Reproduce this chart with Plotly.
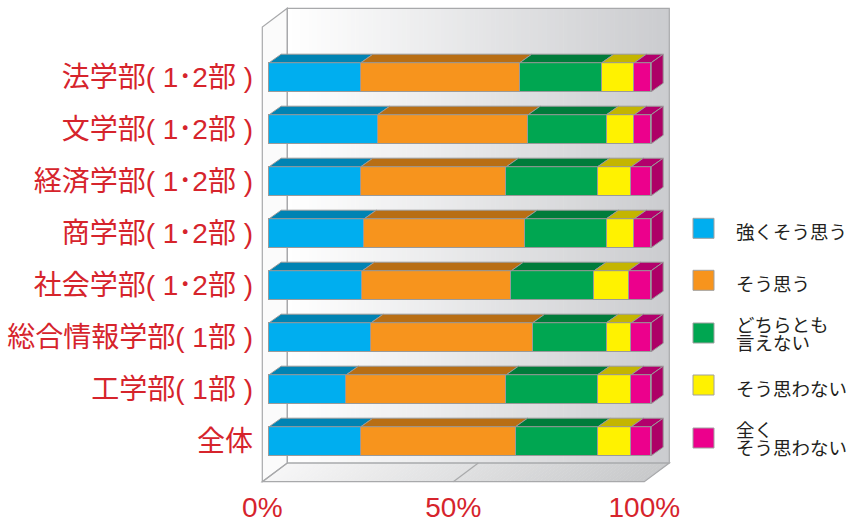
import plotly.graph_objects as go

# ---- data -------------------------------------------------------------
categories = [
    "法学部( 1･2部 )",
    "文学部( 1･2部 )",
    "経済学部( 1･2部 )",
    "商学部( 1･2部 )",
    "社会学部( 1･2部 )",
    "総合情報学部( 1部 )",
    "工学部( 1部 )",
    "全体",
]
series_names = ["強くそう思う", "そう思う", "どちらとも\n言えない", "そう思わない", "全く\nそう思わない"]

strongly_agree = [24.0, 28.4, 24.0, 24.9, 24.4, 26.7, 20.2, 24.0]
agree = [41.6, 39.4, 38.1, 42.1, 39.0, 42.3, 41.9, 40.5]
neutral = [21.5, 20.5, 23.9, 21.3, 21.7, 19.3, 23.9, 21.6]
disagree = [8.5, 7.3, 8.8, 7.3, 9.0, 6.5, 8.8, 8.7]
strongly_disagree = [4.4, 4.4, 5.2, 4.4, 5.9, 5.2, 5.2, 5.2]

x_tick_vals = [0, 50, 100]
x_tick_text = ["0%", "50%", "100%"]

series_values = [strongly_agree, agree, neutral, disagree, strongly_disagree]

# ---- styling ----------------------------------------------------------
front_colors = ["#00aeef", "#f7941d", "#00a651", "#fff200", "#ec008c"]
top_colors = ["#0083b3", "#b86e14", "#007c3b", "#c4b500", "#b3006c"]
side_color = "#ad0066"
edge_color = "#9a9a9a"
label_red = "#d6242c"
frame_line = "#a8a9ab"
label_font = "Liberation Sans, Noto Sans CJK JP"

W, H = 848, 519
PL, PR, PT, PB = 258, 676, 4, 488          # plot area in pixels
S = 3.82                                    # pixels per percent
TICK_X0 = 262.3                             # pixel of 0% on floor front edge
BAR_X0 = 269.2                              # pixel of 0% on bar front faces
ROW0, PITCH = 77.2, 52.0                    # first row centre, row pitch
BAR_W = 0.558
DX, DY = 12.0 / S, 8.5 / PITCH              # bar depth in axis units

# 3D frame (pixels)
FLOOR_FRONT_Y, FLOOR_BACK_Y, WALL_TOP_Y = 481.7, 463.0, 8.3
WALL_DX = 25.0
WALL_DY = FLOOR_FRONT_Y - FLOOR_BACK_Y


def paper(x, y):
    return (x - PL) / (PR - PL), (PB - y) / (PB - PT)


def tick_px(v):
    return TICK_X0 + S * v


def path_paper(points):
    pts = [paper(x, y) for x, y in points]
    return "M" + " L".join(f"{a:.5f},{b:.5f}" for a, b in pts) + " Z"


def mix(c0, c1, t):
    return "rgb(%d,%d,%d)" % tuple(round(a + (b - a) * t) for a, b in zip(c0, c1))


shapes = []

# back wall with horizontal gradient
bw_x0, bw_x1 = tick_px(0) + WALL_DX, tick_px(100) + WALL_DX
N = 90
for k in range(N):
    xa = bw_x0 + (bw_x1 - bw_x0) * k / N
    xb = min(bw_x0 + (bw_x1 - bw_x0) * (k + 1) / N + 0.6, bw_x1)
    shapes.append(dict(type="path", xref="paper", yref="paper", layer="below",
                       path=path_paper([(xa, WALL_TOP_Y), (xb, WALL_TOP_Y),
                                        (xb, FLOOR_BACK_Y), (xa, FLOOR_BACK_Y)]),
                       fillcolor=mix((255, 255, 255), (203, 204, 207), k / (N - 1)),
                       line=dict(width=0)))

# floor with gradient
fl0, fl1 = tick_px(0), tick_px(100)
for k in range(N):
    xa = fl0 + (fl1 - fl0) * k / N
    xb = min(fl0 + (fl1 - fl0) * (k + 1) / N + 0.6, fl1)
    shapes.append(dict(type="path", xref="paper", yref="paper", layer="below",
                       path=path_paper([(xa, FLOOR_FRONT_Y), (xb, FLOOR_FRONT_Y),
                                        (xb + WALL_DX, FLOOR_BACK_Y), (xa + WALL_DX, FLOOR_BACK_Y)]),
                       fillcolor=mix((246, 246, 246), (200, 201, 203), k / (N - 1)),
                       line=dict(width=0)))

# left wall
shapes.append(dict(type="path", xref="paper", yref="paper", layer="below",
                   path=path_paper([(fl0, FLOOR_FRONT_Y), (fl0 + WALL_DX, FLOOR_BACK_Y),
                                    (fl0 + WALL_DX, WALL_TOP_Y), (fl0, WALL_TOP_Y + WALL_DY)]),
                   fillcolor="#fbfbfb", line=dict(color=frame_line, width=1.2)))
# back wall outline
shapes.append(dict(type="path", xref="paper", yref="paper", layer="below",
                   path=path_paper([(bw_x0, WALL_TOP_Y), (bw_x1, WALL_TOP_Y),
                                    (bw_x1, FLOOR_BACK_Y), (bw_x0, FLOOR_BACK_Y)]),
                   fillcolor="rgba(0,0,0,0)", line=dict(color=frame_line, width=1.2)))
# floor outline
shapes.append(dict(type="path", xref="paper", yref="paper", layer="below",
                   path=path_paper([(fl0, FLOOR_FRONT_Y), (fl1, FLOOR_FRONT_Y),
                                    (fl1 + WALL_DX, FLOOR_BACK_Y), (fl0 + WALL_DX, FLOOR_BACK_Y)]),
                   fillcolor="rgba(0,0,0,0)", line=dict(color=frame_line, width=1.2)))
# floor grid line at the middle tick
for v in x_tick_vals[1:-1]:
    x0, y0 = paper(tick_px(v), FLOOR_FRONT_Y)
    x1, y1 = paper(tick_px(v) + WALL_DX, FLOOR_BACK_Y)
    shapes.append(dict(type="line", xref="paper", yref="paper", layer="below",
                       x0=x0, y0=y0, x1=x1, y1=y1, line=dict(color=frame_line, width=1.2)))

# ---- bars -------------------------------------------------------------
positions = list(range(len(categories)))
fig = go.Figure()
for name, vals, col in zip(series_names, series_values, front_colors):
    fig.add_trace(go.Bar(
        y=positions, x=vals, orientation="h", name=name.replace("\n", ""),
        xaxis="x2", yaxis="y", width=BAR_W,
        marker=dict(color=col, line=dict(color=edge_color, width=1)),
        showlegend=False, hoverinfo="skip",
    ))

# empty trace so the percentage axis (floor front edge) is laid out
fig.add_trace(go.Scatter(x=[None], y=[None], xaxis="x", yaxis="y",
                         mode="markers", showlegend=False, hoverinfo="skip"))

# top and end faces of each stacked bar
for i in positions:
    y_top = i - BAR_W / 2
    y_bot = i + BAR_W / 2
    left = 0.0
    for s_idx, vals in enumerate(series_values):
        right = left + vals[i]
        shapes.append(dict(
            type="path", xref="x2", yref="y", layer="above",
            path=f"M{left},{y_top} L{right},{y_top} L{right + DX},{y_top - DY} L{left + DX},{y_top - DY} Z",
            fillcolor=top_colors[s_idx], line=dict(color=edge_color, width=1)))
        left = right
    shapes.append(dict(
        type="path", xref="x2", yref="y", layer="above",
        path=f"M{left},{y_top} L{left + DX},{y_top - DY} L{left + DX},{y_bot - DY} L{left},{y_bot} Z",
        fillcolor=side_color, line=dict(color=edge_color, width=1)))

# ---- legend -----------------------------------------------------------
annotations = []
legend_centres = [228.3, 280.3, 333.0, 385.0, 438.0]
for name, col, c in zip(series_names, front_colors, legend_centres):
    x0, y0 = paper(693, c - 10)
    x1, y1 = paper(714, c + 10)
    shapes.append(dict(type="rect", xref="paper", yref="paper", x0=x0, y0=y0, x1=x1, y1=y1,
                       fillcolor=col, line=dict(color="#a0a0a0", width=1)))
    lines = name.split("\n")
    if len(lines) == 1:
        ys = [c + 3]
    else:
        ys = [c - 9.0, c + 8.5]
    for txt, yy in zip(lines, ys):
        ax, ay = paper(734, yy)
        annotations.append(dict(xref="paper", yref="paper", x=ax, y=ay, text=txt,
                                showarrow=False, xanchor="left", yanchor="middle",
                                font=dict(family="Noto Sans CJK JP", size=18.5, color="#231f20")))

fig.update_layout(
    width=W, height=H,
    margin=dict(l=PL, r=W - PR, t=PT, b=H - PB, pad=0, autoexpand=False),
    paper_bgcolor="white", plot_bgcolor="rgba(0,0,0,0)",
    barmode="stack", bargap=0,
    shapes=shapes, annotations=annotations,
    xaxis=dict(range=[(PL - TICK_X0) / S, (PR - TICK_X0) / S], automargin=False,
               tickvals=x_tick_vals, ticktext=x_tick_text,
               showgrid=False, zeroline=False, showline=False, ticks="",
               ticklabelstandoff=0,
               tickfont=dict(family="Liberation Sans", size=28, color=label_red)),
    xaxis2=dict(range=[(PL - BAR_X0) / S, (PR - BAR_X0) / S], overlaying="x",
                anchor="y", visible=False, showgrid=False, zeroline=False, automargin=False),
    yaxis=dict(range=[(PB - ROW0) / PITCH, (PT - ROW0) / PITCH], automargin=False,
               tickvals=positions, ticktext=categories,
               showgrid=False, zeroline=False, showline=False, ticks="",
               ticklabelstandoff=4,
               tickfont=dict(family=label_font, size=28, color=label_red)),
    showlegend=False,
)

fig.write_html("out.html")
